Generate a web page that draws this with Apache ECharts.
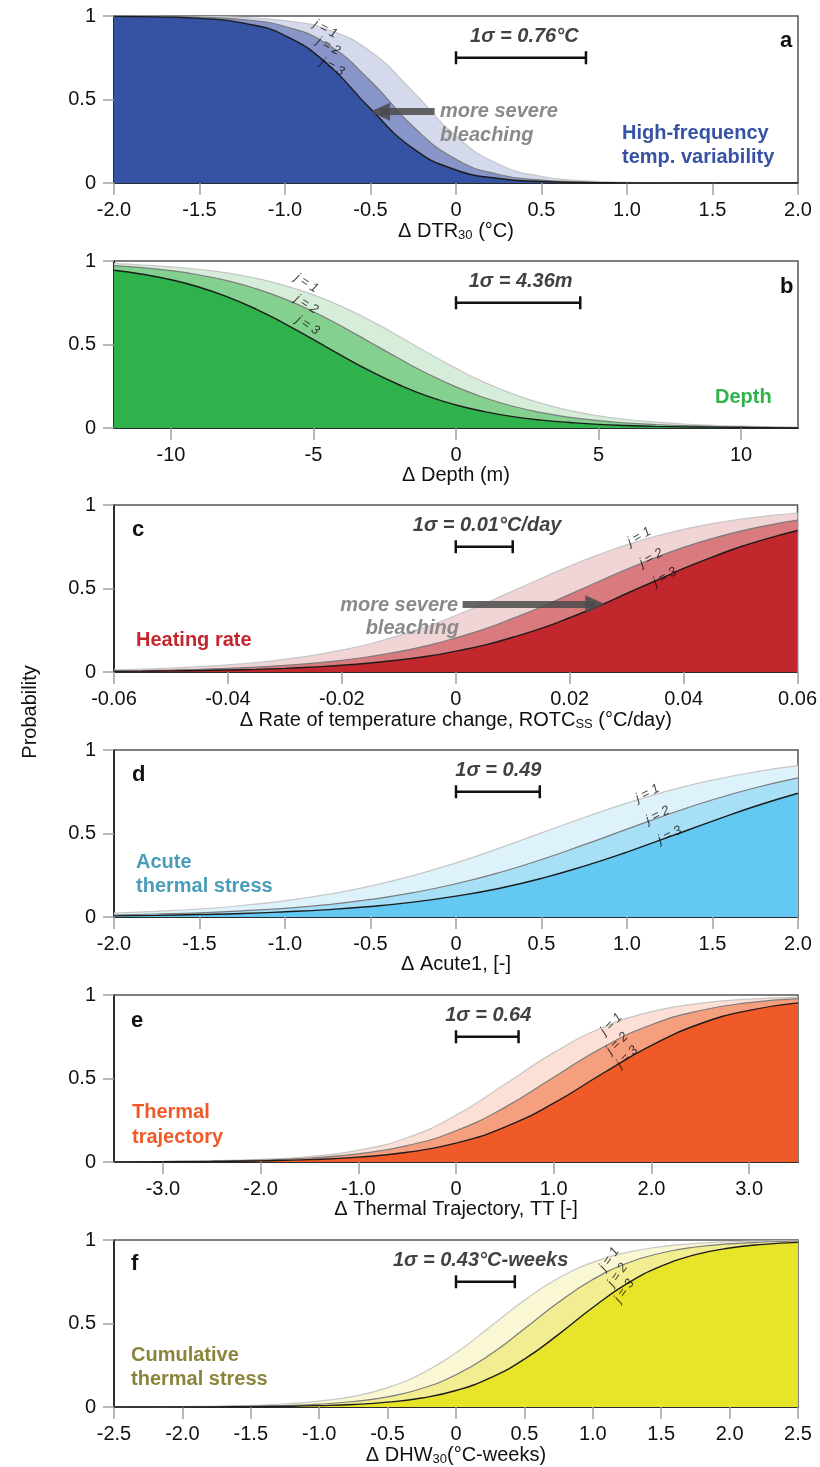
<!DOCTYPE html>
<html>
<head>
<meta charset="utf-8">
<script src="https://cdn.jsdelivr.net/npm/echarts@6/dist/echarts.min.js"></script>
<style>
  html, body { margin: 0; padding: 0; background: #fff; }
  #chart { width: 820px; height: 1467px; }
</style>
</head>
<body>
<div id="chart"></div>
<script>
// Cumulative bleaching probabilities P(Y >= j) against each standardised predictor

// (a) high-frequency temperature variability
const dtrX  = [-2, -1.75, -1.5, -1.25, -1, -0.75, -0.5, -0.25, 0, 0.25, 0.5, 0.75, 1, 1.25, 1.5, 1.75, 2];
const dtrJ1 = [1.0, 0.999, 0.997, 0.991, 0.972, 0.919, 0.787, 0.545, 0.280, 0.112, 0.039, 0.013, 0.004, 0.001, 0, 0, 0];
const dtrJ2 = [0.999, 0.998, 0.993, 0.979, 0.937, 0.829, 0.611, 0.337, 0.142, 0.051, 0.017, 0.006, 0.002, 0.001, 0, 0, 0];
const dtrJ3 = [0.998, 0.995, 0.986, 0.959, 0.883, 0.711, 0.444, 0.206, 0.078, 0.027, 0.009, 0.003, 0.001, 0, 0, 0, 0];
const dtrTicks = [-2, -1.5, -1, -0.5, 0, 0.5, 1, 1.5, 2];

// (b) depth
const depthX  = [-12, -11, -10, -9, -8, -7, -6, -5, -4, -3, -2, -1, 0, 1, 2, 3, 4, 5, 6, 7, 8, 9, 10, 11, 12];
const depthJ1 = [0.984, 0.976, 0.965, 0.949, 0.927, 0.896, 0.853, 0.797, 0.727, 0.643, 0.550, 0.450, 0.357, 0.273, 0.203, 0.147, 0.104, 0.073, 0.051, 0.035, 0.024, 0.016, 0.011, 0.008, 0.005];
const depthJ2 = [0.972, 0.960, 0.942, 0.916, 0.881, 0.833, 0.772, 0.696, 0.608, 0.512, 0.416, 0.325, 0.246, 0.181, 0.130, 0.092, 0.064, 0.044, 0.030, 0.021, 0.014, 0.010, 0.007, 0.004, 0.003];
const depthJ3 = [0.945, 0.921, 0.888, 0.843, 0.784, 0.711, 0.624, 0.529, 0.432, 0.340, 0.259, 0.191, 0.138, 0.098, 0.068, 0.047, 0.033, 0.022, 0.015, 0.010, 0.007, 0.005, 0.003, 0.002, 0.001];
const depthTicks = [-10, -5, 0, 5, 10];

// (c) heating rate
const rotcX  = [-0.06, -0.055, -0.05, -0.045, -0.04, -0.035, -0.03, -0.025, -0.02, -0.015, -0.01, -0.005, 0, 0.005, 0.01, 0.015, 0.02, 0.025, 0.03, 0.035, 0.04, 0.045, 0.05, 0.055, 0.06];
const rotcJ1 = [0.013, 0.017, 0.024, 0.032, 0.043, 0.057, 0.076, 0.100, 0.131, 0.169, 0.218, 0.273, 0.338, 0.409, 0.485, 0.560, 0.634, 0.701, 0.761, 0.812, 0.854, 0.888, 0.915, 0.936, 0.952];
const rotcJ2 = [0.007, 0.009, 0.012, 0.016, 0.022, 0.029, 0.040, 0.053, 0.070, 0.093, 0.122, 0.158, 0.204, 0.257, 0.321, 0.389, 0.465, 0.540, 0.615, 0.684, 0.746, 0.799, 0.844, 0.880, 0.909];
const rotcJ3 = [0.004, 0.005, 0.007, 0.009, 0.012, 0.016, 0.022, 0.030, 0.040, 0.054, 0.072, 0.094, 0.125, 0.161, 0.208, 0.261, 0.325, 0.394, 0.470, 0.545, 0.620, 0.688, 0.750, 0.802, 0.847];
const rotcTicks = [-0.06, -0.04, -0.02, 0, 0.02, 0.04, 0.06];

// (d) acute thermal stress
const acuteX  = [-2, -1.75, -1.5, -1.25, -1, -0.75, -0.5, -0.25, 0, 0.25, 0.5, 0.75, 1, 1.25, 1.5, 1.75, 2];
const acuteJ1 = [0.023, 0.034, 0.048, 0.069, 0.097, 0.135, 0.185, 0.248, 0.324, 0.411, 0.504, 0.596, 0.682, 0.758, 0.820, 0.869, 0.906];
const acuteJ2 = [0.012, 0.018, 0.025, 0.037, 0.052, 0.074, 0.105, 0.146, 0.199, 0.265, 0.344, 0.433, 0.526, 0.618, 0.702, 0.774, 0.833];
const acuteJ3 = [0.007, 0.010, 0.015, 0.021, 0.031, 0.044, 0.063, 0.089, 0.125, 0.171, 0.231, 0.305, 0.389, 0.481, 0.574, 0.663, 0.741];
const acuteTicks = [-2, -1.5, -1, -0.5, 0, 0.5, 1, 1.5, 2];

// (e) thermal trajectory
const ttX  = [-3.5, -3, -2.5, -2, -1.5, -1, -0.5, 0, 0.5, 1, 1.5, 2, 2.5, 3, 3.5];
const ttJ1 = [0.002, 0.004, 0.008, 0.016, 0.033, 0.070, 0.145, 0.280, 0.465, 0.655, 0.805, 0.900, 0.950, 0.975, 0.987];
const ttJ2 = [0.001, 0.003, 0.005, 0.011, 0.024, 0.049, 0.098, 0.187, 0.327, 0.507, 0.686, 0.822, 0.907, 0.954, 0.978];
const ttJ3 = [0.001, 0.002, 0.003, 0.007, 0.014, 0.029, 0.058, 0.113, 0.209, 0.352, 0.530, 0.698, 0.828, 0.908, 0.953];
const ttTicks = [-3, -2, -1, 0, 1, 2, 3];

// (f) cumulative thermal stress
const dhwX  = [-2.5, -2.25, -2, -1.75, -1.5, -1.25, -1, -0.75, -0.5, -0.25, 0, 0.25, 0.5, 0.75, 1, 1.25, 1.5, 1.75, 2, 2.25, 2.5];
const dhwJ1 = [0.001, 0.001, 0.003, 0.005, 0.010, 0.018, 0.035, 0.064, 0.116, 0.201, 0.325, 0.480, 0.639, 0.772, 0.866, 0.926, 0.960, 0.979, 0.989, 0.994, 0.997];
const dhwJ2 = [0, 0.001, 0.001, 0.003, 0.005, 0.009, 0.017, 0.033, 0.061, 0.111, 0.193, 0.314, 0.468, 0.627, 0.763, 0.861, 0.922, 0.958, 0.977, 0.988, 0.994];
const dhwJ3 = [0, 0, 0.001, 0.001, 0.002, 0.004, 0.008, 0.015, 0.029, 0.054, 0.099, 0.174, 0.287, 0.435, 0.596, 0.739, 0.844, 0.912, 0.952, 0.974, 0.986];
const dhwTicks = [-2.5, -2, -1.5, -1, -0.5, 0, 0.5, 1, 1.5, 2, 2.5];

// one standard deviation of each predictor
const sigmas = [0.76, 4.36, 0.01, 0.49, 0.64, 0.43];
const sigmaTexts = ['1σ = 0.76°C', '1σ = 4.36m', '1σ = 0.01°C/day', '1σ = 0.49', '1σ = 0.64', '1σ = 0.43°C-weeks'];
const probTicks = [0, 0.5, 1];

const FONT = "'Liberation Sans', Arial, Helvetica, sans-serif";
const LINE_COLS = ['#c6c6c6', '#7c7c7c', '#1c1c1c'];
const GRID_LEFT = 114, GRID_W = 684;
const tops = [16, 261, 505, 750, 995, 1240];
const GRID_H = 167;

const panels = [
  { x: dtrX, j: [dtrJ1, dtrJ2, dtrJ3], min: -2, max: 2, ticks: dtrTicks, dec: 1,
    name: 'Δ DTR{sub|30} (°C)', fills: ['#d4d9eb', '#8795c8', '#3652a2'],
    sigmaLabelX: 0.40, jPos: [[-0.764, 0.922], [-0.746, 0.82], [-0.723, 0.695]], jRot: -28,
    arrow: { from: -0.125, to: -0.444, y: 0.427 } },
  { x: depthX, j: [depthJ1, depthJ2, depthJ3], min: -12, max: 12, ticks: depthTicks, dec: 0,
    name: 'Δ Depth (m)', fills: ['#d6eed9', '#84d08f', '#2fb14b'],
    sigmaLabelX: 2.27, jPos: [[-5.25, 0.867], [-5.25, 0.74], [-5.2, 0.614]], jRot: -32 },
  { x: rotcX, j: [rotcJ1, rotcJ2, rotcJ3], min: -0.06, max: 0.06, ticks: rotcTicks, dec: 2,
    name: 'Δ Rate of temperature change, ROTC{sub|SS} (°C/day)', fills: ['#f1d4d5', '#d97a7e', '#c1272d'],
    sigmaLabelX: 0.0055, jPos: [[0.0322, 0.81], [0.0343, 0.683], [0.0367, 0.569]], jRot: 30,
    arrow: { from: 0.0012, to: 0.0245, y: 0.405 } },
  { x: acuteX, j: [acuteJ1, acuteJ2, acuteJ3], min: -2, max: 2, ticks: acuteTicks, dec: 1,
    name: 'Δ Acute1, [-]', fills: ['#def2fb', '#a6dff6', '#63c9f3'],
    sigmaLabelX: 0.248, jPos: [[1.12, 0.74], [1.18, 0.61], [1.25, 0.49]], jRot: 27 },
  { x: ttX, j: [ttJ1, ttJ2, ttJ3], min: -3.5, max: 3.5, ticks: ttTicks, dec: 1,
    name: 'Δ Thermal Trajectory, TT [-]', fills: ['#fcdfd5', '#f59f7f', '#f05a28'],
    sigmaLabelX: 0.33, jPos: [[1.59, 0.826], [1.65, 0.71], [1.75, 0.63]], jRot: 45 },
  { x: dhwX, j: [dhwJ1, dhwJ2, dhwJ3], min: -2.5, max: 2.5, ticks: dhwTicks, dec: 1,
    name: 'Δ DHW{sub|30}(°C-weeks)', fills: ['#faf7d4', '#f1ed90', '#e8e42a'],
    sigmaLabelX: 0.18, jPos: [[1.12, 0.886], [1.18, 0.79], [1.23, 0.695]], jRot: 55 }
];

function tickFormatter(dec) {
  return v => (Math.abs(v) < 1e-9 ? '0' : v.toFixed(dec));
}

const grids = [], xAxes = [], yAxes = [], series = [];

panels.forEach((p, i) => {
  grids.push({
    left: GRID_LEFT, top: tops[i], width: GRID_W, height: GRID_H,
    show: true, borderColor: '#555', borderWidth: 1.5, backgroundColor: '#fff'
  });
  xAxes.push({
    type: 'value', gridIndex: i, min: p.min, max: p.max,
    axisLine: { show: true, onZero: false, lineStyle: { color: '#111', width: 1.5 } },
    axisTick: { show: true, length: 12, customValues: p.ticks, lineStyle: { color: '#a0a0a0', width: 1.5 } },
    axisLabel: { customValues: p.ticks, formatter: tickFormatter(p.dec), fontSize: 20, color: '#111',
                 fontFamily: FONT, margin: 17, hideOverlap: false },
    splitLine: { show: false },
    name: p.name, nameLocation: 'middle', nameGap: 37,
    nameTextStyle: {
      fontSize: 20, color: '#111', fontFamily: FONT, verticalAlign: 'top',
      rich: { sub: { fontSize: 13, fontFamily: FONT, color: '#111', verticalAlign: 'bottom', padding: [9, 0, 0, 0] } }
    }
  });
  yAxes.push({
    type: 'value', gridIndex: i, min: 0, max: 1,
    axisLine: { show: true, onZero: false, lineStyle: { color: '#111', width: 1.5 } },
    axisTick: { show: true, length: 11, customValues: probTicks, lineStyle: { color: '#a0a0a0', width: 1.5 } },
    axisLabel: { customValues: probTicks, formatter: v => String(v), fontSize: 20, color: '#111',
                 fontFamily: FONT, margin: 18 },
    splitLine: { show: false }
  });

  // three cumulative curves, widest first so the narrower ones sit on top
  for (let k = 0; k < 3; k++) {
    series.push({
      type: 'line', xAxisIndex: i, yAxisIndex: i,
      data: p.x.map((xv, n) => [xv, p.j[k][n]]),
      smooth: true, symbol: 'none', silent: true,
      lineStyle: { color: LINE_COLS[k], width: k === 2 ? 1.4 : 1.2 },
      areaStyle: { color: p.fills[k], opacity: 1 }
    });
  }

  // 1σ scale bar
  series.push({
    type: 'line', xAxisIndex: i, yAxisIndex: i, z: 5,
    data: [[0, 0.75], [sigmas[i], 0.75]],
    symbol: 'rect', symbolSize: [2.5, 13], showSymbol: true,
    lineStyle: { color: '#111', width: 2.5 }, itemStyle: { color: '#111' }
  });
  series.push({
    type: 'scatter', xAxisIndex: i, yAxisIndex: i, z: 5, silent: true,
    data: [[p.sigmaLabelX, 0.877]], symbolSize: 0,
    label: { show: true, position: 'inside', formatter: sigmaTexts[i], fontStyle: 'italic',
             fontWeight: 'bold', fontSize: 20, color: '#111', fontFamily: FONT }
  });

  // j labels along the curves
  series.push({
    type: 'scatter', xAxisIndex: i, yAxisIndex: i, z: 6, silent: true,
    data: p.jPos, symbolSize: 0,
    label: { show: true, position: 'inside', rotate: p.jRot,
             formatter: prm => 'j = ' + (prm.dataIndex + 1),
             fontStyle: 'italic', fontSize: 13, color: '#111', fontFamily: FONT }
  });

  if (p.arrow) {
    series.push({
      type: 'line', xAxisIndex: i, yAxisIndex: i, z: 7, data: [],
      markLine: {
        silent: true, symbol: ['none', 'triangle'], symbolSize: [18, 20],
        label: { show: false },
        itemStyle: { color: '#4a4a4a' },
        lineStyle: { color: '#4a4a4a', width: 7, type: 'solid', opacity: 0.85 },
        data: [[{ coord: [p.arrow.from, p.arrow.y] }, { coord: [p.arrow.to, p.arrow.y] }]]
      }
    });
  }
});

function txt(text, x, y, opts) {
  const o = Object.assign({ size: 20, weight: 'bold', style: 'normal', color: '#111', align: 'left', rot: 0 }, opts || {});
  return {
    type: 'text', x: x, y: y, rotation: o.rot, z: 20, silent: true,
    style: {
      text: text, fill: o.color, fontSize: o.size, fontWeight: o.weight, fontStyle: o.style,
      fontFamily: FONT, textAlign: o.align, align: o.align,
      textVerticalAlign: 'middle', verticalAlign: 'middle'
    }
  };
}

const GRAY = '#8a8a8a';
const graphics = [
  txt('Probability', 30, 712, { weight: 'normal', align: 'center', rot: Math.PI / 2 }),
  // (a)
  txt('a', 780, 41, { size: 22 }),
  txt('High-frequency', 622, 133, { color: '#3652a2' }),
  txt('temp. variability', 622, 157, { color: '#3652a2' }),
  txt('more severe', 440, 111, { color: GRAY, style: 'italic' }),
  txt('bleaching', 440, 135, { color: GRAY, style: 'italic' }),
  // (b)
  txt('b', 780, 287, { size: 22 }),
  txt('Depth', 715, 397, { color: '#2fb14b' }),
  // (c)
  txt('c', 132, 530, { size: 22 }),
  txt('Heating rate', 136, 640, { color: '#c1272d' }),
  txt('more severe', 458, 605, { color: GRAY, style: 'italic', align: 'right' }),
  txt('bleaching', 459, 628, { color: GRAY, style: 'italic', align: 'right' }),
  // (d)
  txt('d', 132, 775, { size: 22 }),
  txt('Acute', 136, 862, { color: '#4a9db8' }),
  txt('thermal stress', 136, 886, { color: '#4a9db8' }),
  // (e)
  txt('e', 131, 1021, { size: 22 }),
  txt('Thermal', 132, 1112, { color: '#f05a28' }),
  txt('trajectory', 132, 1137, { color: '#f05a28' }),
  // (f)
  txt('f', 131, 1264, { size: 22 }),
  txt('Cumulative', 131, 1355, { color: '#8a853a' }),
  txt('thermal stress', 131, 1379, { color: '#8a853a' })
];

const chart = echarts.init(document.getElementById('chart'), null, { renderer: 'canvas', width: 820, height: 1467 });
chart.setOption({
  animation: false,
  backgroundColor: '#fff',
  textStyle: { fontFamily: FONT },
  grid: grids, xAxis: xAxes, yAxis: yAxes, series: series,
  graphic: graphics
});
</script>
</body>
</html>
